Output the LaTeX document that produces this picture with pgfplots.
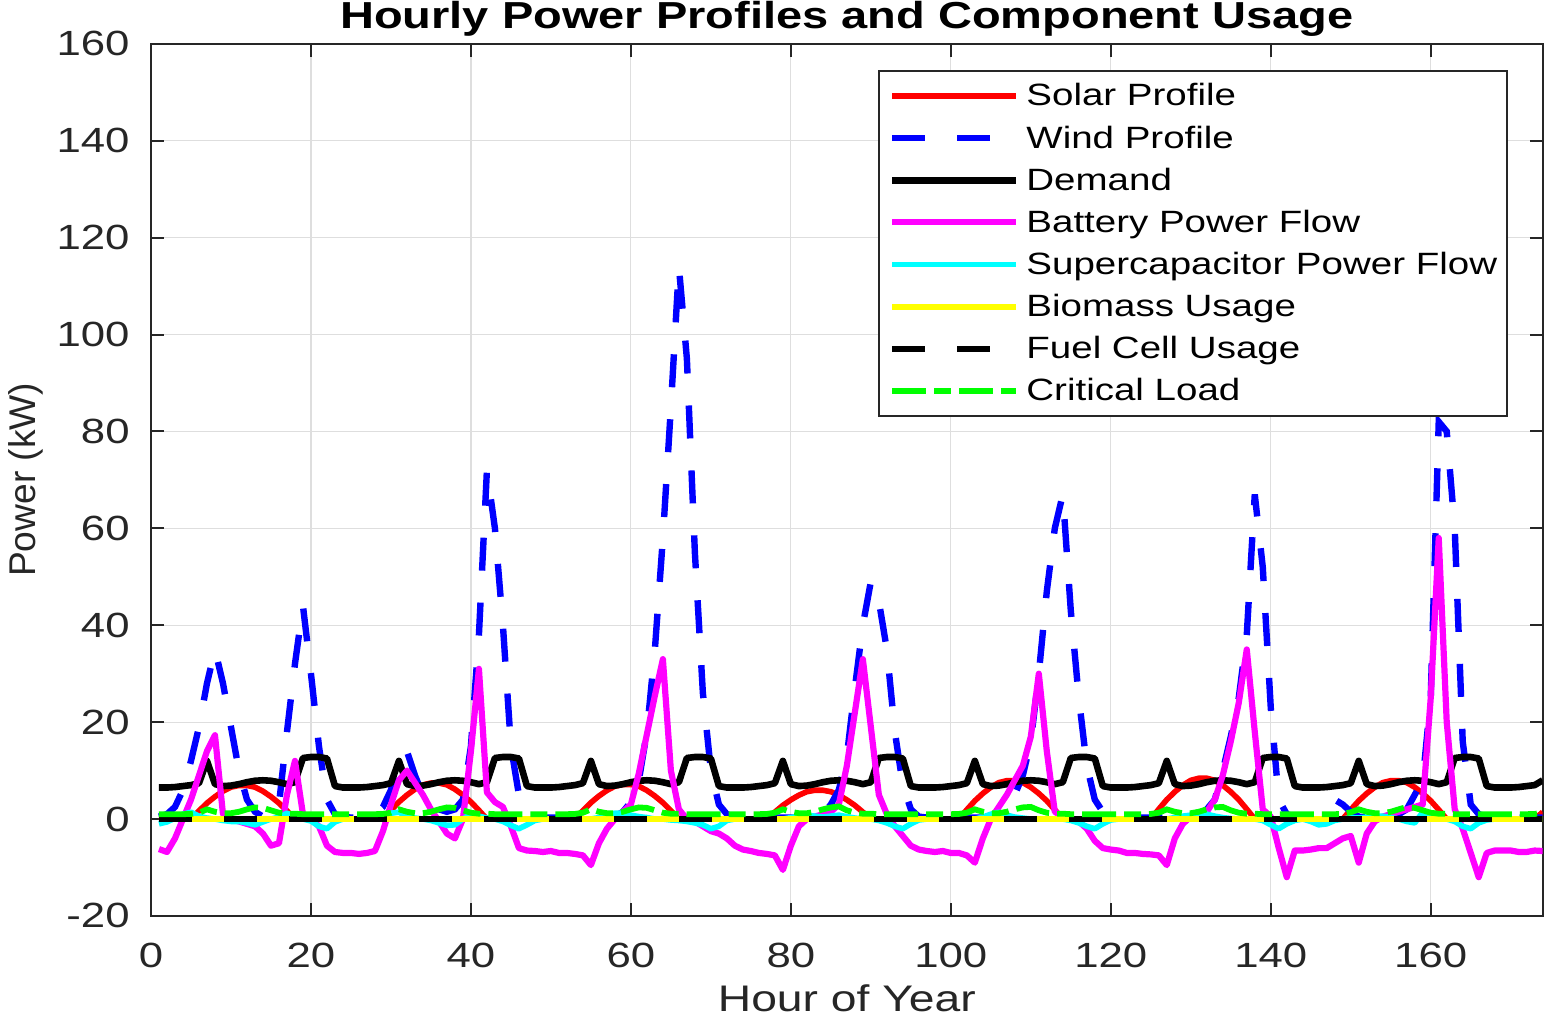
\documentclass[border=0pt]{standalone}
\usepackage{fontspec}
\setmainfont{Liberation Sans}[FakeStretch=1.25]
\newfontfamily\ylabfont{Liberation Sans}
\usepackage{pgfplots}
\usepackage{pgfplotstable}
\pgfplotsset{compat=1.18}
\definecolor{axcol}{RGB}{38,38,38}
\definecolor{gridcol}{RGB}{222,222,222}
\definecolor{cred}{RGB}{255,0,0}
\definecolor{cblue}{RGB}{0,0,255}
\definecolor{cmag}{RGB}{255,0,255}
\definecolor{ccyan}{RGB}{0,255,255}
\definecolor{cyel}{RGB}{255,255,0}
\definecolor{cgreen}{RGB}{0,255,0}

\pgfplotstableread{
h S W D B C K
1 0 0.5 6.5 -6.2 -1.0 1.0
2 0 1.0 6.5 -6.8 -0.6 1.0
3 0 2.5 6.6 -4 0.2 1.0
4 0 6 6.8 0 1.0 1.0
5 0 12 7.0 4 1.4 1.05
6 1.68 19 7.4 9 0.6 1.3
7 3.29 28 12.0 14 0.2 2.0
8 4.62 35 7.2 17.3 0 1.5
9 5.74 28 6.8 1 -0.3 1.2
10 6.58 19 6.9 0 -0.5 1.2
11 6.93 10 7.2 -0.5 -0.5 1.5
12 6.93 4 7.6 -1 -0.8 2.0
13 6.58 1.5 7.9 -1.5 -1.2 2.4
14 5.74 0.5 8.0 -3 -0.6 2.3
15 4.62 0.5 7.9 -5.5 0 1.8
16 3.29 3 7.6 -5 0.4 1.3
17 1.68 18 7.2 5 1.2 1.1
18 0 32 7.6 12 0.6 1.1
19 0 44 12.6 1 0 1.0
20 0 30 12.8 0 -0.4 1.0
21 0 15 12.8 -1.5 -1.5 1.0
22 0 4 12.5 -5.5 -2.0 1.0
23 0 1 6.8 -6.8 -0.6 1.0
24 0 0.5 6.5 -7 0 1.0
25 0 0.3 6.5 -7 0 1.0
26 0 0.3 6.5 -7.2 0 1.0
27 0 0.5 6.6 -7 0 1.0
28 0 1 6.8 -6.6 0 1.0
29 0 2.5 7.0 -2.5 0.5 1.05
30 1.8 6 7.4 3 1.2 1.3
31 3.53 12 12.0 8 1.4 2.0
32 4.95 14 7.2 10 0.6 1.5
33 6.15 9 6.8 7.5 0.2 1.2
34 7.05 5 6.9 5 0 1.2
35 7.43 3 7.2 2 -0.3 1.5
36 7.43 2 7.6 -0.5 -0.8 2.0
37 7.05 1.5 7.9 -3 -1.3 2.4
38 6.15 2 8.0 -4 -1.2 2.3
39 4.95 4 7.9 0 0 1.8
40 3.53 15 7.6 14 1.0 1.3
41 1.8 38 7.2 31 0.6 1.1
42 0 72 7.6 5.5 0.2 1.1
43 0 60 12.6 3.5 0 1.0
44 0 40 12.8 2.5 -0.5 1.0
45 0 15 12.8 -1.5 -1.3 1.0
46 0 5 12.5 -6 -2.0 1.0
47 0 1.5 6.8 -6.5 -1.2 1.0
48 0 0.5 6.5 -6.6 -0.3 1.0
49 0 0.3 6.5 -6.8 0 1.0
50 0 0.3 6.5 -6.6 0 1.0
51 0 0.3 6.6 -7 0 1.0
52 0 0.3 6.8 -7 0 1.0
53 0 0.3 7.0 -7.2 0 1.05
54 1.73 0.3 7.4 -7.5 0 1.3
55 3.38 0.3 12.0 -9.5 0 2.0
56 4.75 0.3 7.2 -5 0.3 1.5
57 5.9 0.3 6.8 -2 0.8 1.2
58 6.77 0.5 6.9 0 1.2 1.2
59 7.13 1.5 7.2 1.5 1.2 1.5
60 7.13 3.5 7.6 3 0.8 2.0
61 6.77 8 7.9 9.5 0.5 2.4
62 5.9 18 8.0 17.5 0.3 2.3
63 4.75 35 7.9 25.5 0 1.8
64 3.38 58 7.6 33 0 1.3
65 1.73 85 7.2 10 -0.2 1.1
66 0 114 7.6 2 -0.3 1.1
67 0 95 12.6 0 -0.5 1.0
68 0 55 12.8 -0.5 -0.8 1.0
69 0 26 12.8 -1.5 -1.2 1.0
70 0 10 12.5 -2.5 -2.0 1.0
71 0 3 6.8 -3 -1.5 1.0
72 0 1 6.5 -4 -0.3 1.0
73 0 0.3 6.5 -5.5 0 1.0
74 0 0.3 6.5 -6.3 0 1.0
75 0 0.3 6.6 -6.6 0 1.0
76 0 0.3 6.8 -7 0 1.0
77 0 0.3 7.0 -7.2 0 1.05
78 1.44 0.3 7.4 -7.5 0 1.3
79 2.82 0.3 12.0 -10.5 0 2.0
80 3.96 0.3 7.2 -5.5 0.3 1.5
81 4.92 0.3 6.8 -1.5 0.6 1.2
82 5.64 0.3 6.9 0 0.8 1.2
83 5.94 0.3 7.2 0.5 0.6 1.5
84 5.94 1 7.6 1 0.4 2.0
85 5.64 3 7.9 1.5 0.6 2.4
86 4.92 6 8.0 3 0.8 2.6
87 3.96 13 7.9 11 0.5 1.8
88 2.82 27 7.6 22 0.2 1.3
89 1.44 40 7.2 33 0 1.1
90 0 49 7.6 19 0 1.1
91 0 45 12.6 5 -0.3 1.0
92 0 35 12.8 1 -0.8 1.0
93 0 18 12.8 -1.5 -1.5 1.0
94 0 7 12.5 -3.5 -2.0 1.0
95 0 2 6.8 -5.5 -1.0 1.0
96 0 0.5 6.5 -6.3 -0.2 1.0
97 0 0.3 6.5 -6.6 0 1.0
98 0 0.3 6.5 -6.8 0 1.0
99 0 0.3 6.6 -6.6 0 1.0
100 0 0.3 6.8 -7 0 1.0
101 0 0.3 7.0 -7 0 1.05
102 1.92 0.3 7.4 -7.5 0 1.3
103 3.76 0.3 12.0 -9 0 2.0
104 5.28 0.3 7.2 -4 0.4 1.5
105 6.56 0.3 6.8 0 1.0 1.2
106 7.52 1 6.9 2.5 1.4 1.2
107 7.92 2.5 7.2 5 0.8 1.5
108 7.92 5 7.6 8 0.4 2.0
109 7.52 9 7.9 11 0.2 2.4
110 6.56 16 8.0 17 0 2.5
111 5.28 30 7.9 30 0 1.8
112 3.76 47 7.6 14 0 1.3
113 1.92 60 7.2 1.5 0 1.1
114 0 67 7.6 0.5 0 1.1
115 0 43 12.6 0 -0.3 1.0
116 0 25 12.8 -0.5 -0.8 1.0
117 0 11 12.8 -2 -1.5 1.0
118 0 4 12.5 -4.5 -2.0 1.0
119 0 1.5 6.8 -6 -1.0 1.0
120 0 0.5 6.5 -6.3 -0.2 1.0
121 0 0.3 6.5 -6.5 0 1.0
122 0 0.3 6.5 -7 0 1.0
123 0 0.3 6.6 -7 0 1.0
124 0 0.3 6.8 -7.2 0 1.0
125 0 0.3 7.0 -7.3 0 1.05
126 2.04 0.3 7.4 -7.5 0 1.3
127 4.0 0.3 12.0 -9.5 0 2.0
128 5.61 0.3 7.2 -4 0.3 1.5
129 6.97 0.3 6.8 -1 0.6 1.2
130 7.99 0.3 6.9 0.5 0.8 1.2
131 8.42 1 7.2 1 0.9 1.5
132 8.42 2 7.6 1.5 1.0 2.0
133 7.99 4 7.9 4 0.6 2.4
134 6.97 10 8.0 9 0.3 2.5
135 5.61 17 7.9 16 0.1 1.8
136 4.0 25 7.6 24 0 1.3
137 2.04 38 7.2 35 0 1.1
138 0 67 7.6 18 0 1.1
139 0 52 12.6 2 -0.3 1.0
140 0 23 12.8 0.5 -1.2 1.0
141 0 4 12.8 -6 -2.0 1.0
142 0 1 12.5 -12 -1.0 1.0
143 0 0.5 6.8 -6.5 -0.3 1.0
144 0 0.3 6.5 -6.5 0 1.0
145 0 0.5 6.5 -6.3 -0.5 1.0
146 0 1.5 6.5 -6 -1.2 1.0
147 0 3 6.6 -6 -1.0 1.0
148 0 4 6.8 -5 -0.3 1.0
149 0 3 7.0 -4 0 1.05
150 1.92 1.5 7.4 -3.5 0.3 1.4
151 3.76 0.5 12.0 -9 0.2 2.0
152 5.28 0.3 7.2 -3 0.4 1.5
153 6.56 0.3 6.8 -0.5 0.6 1.2
154 7.52 0.3 6.9 0.5 0.6 1.2
155 7.92 0.3 7.2 1 0.3 1.5
156 7.92 1 7.6 1.5 0 2.0
157 7.52 2 7.9 2 -0.5 2.5
158 6.56 5 8.0 2.5 -0.8 2.3
159 5.28 8 7.9 3 1.4 1.8
160 3.76 25 7.6 25 0.6 1.3
161 1.92 82 7.2 58 0.2 1.1
162 0 80 7.6 20 0 1.1
163 0 60 12.6 2 -0.5 1.0
164 0 16 12.8 -2 -1.5 1.0
165 0 3 12.8 -7 -2.0 1.0
166 0 1 12.5 -12 -0.8 1.0
167 0 0.5 6.8 -7 -0.2 1.0
168 0 0.3 6.5 -6.5 0 1.0
169 0 0.3 6.5 -6.5 0 1.0
170 0 0.3 6.5 -6.5 0 1.0
171 0 0.3 6.6 -6.8 0 1.0
172 0 0.3 6.8 -6.8 0 1.0
173 0 0.3 7.0 -6.5 0 1.05
174 1.44 0.3 8.0 -6.6 0 1.3
}\datatable

\begin{document}
\begin{tikzpicture}
\begin{axis}[
 name=ax, scale only axis, width=695.9bp, height=436.1bp,
 xmin=0, xmax=174, ymin=-20, ymax=160,
 xtick={0,20,...,160}, ytick={-20,0,...,160},
 tick pos=both, tick align=inside, major tick length=6.5bp,
 axis line style={axcol, line width=1bp},
 tick style={axcol, line width=1bp},
 grid=major, grid style={gridcol, line width=0.6bp},
 /pgf/number format/assume math mode=true,
 ticklabel style={font=\fontsize{17.5bp}{20bp}\selectfont, text=axcol},
 xticklabel style={inner sep=0pt, anchor=north, yshift=-13.5bp},
 yticklabel style={inner sep=0pt, anchor=east, xshift=-10.5bp},
 every axis title shift=0pt,
 title={Hourly Power Profiles and Component Usage},
 title style={font=\fontsize{18.8bp}{22bp}\selectfont\bfseries, at={(axis description cs:0.5,1.0181)}, anchor=base, inner sep=0pt},
 xlabel={Hour of Year},
 xlabel style={font=\fontsize{18.5bp}{22bp}\selectfont, text=axcol, at={(axis description cs:0.5,-0.1101)}, anchor=base, inner sep=0pt},
 ylabel={Power (kW)},
 ylabel style={font=\ylabfont\fontsize{18.6bp}{22bp}\selectfont, text=axcol, at={(axis description cs:-0.0833,0.5)}, anchor=base, inner sep=0pt},
 legend style={at={(axis description cs:1,1)}, anchor=north east, xshift=-17.4bp, yshift=-13.2bp, draw=axcol, line width=0.75bp, fill=white, font=\fontsize{15.4bp}{18bp}\selectfont, inner xsep=5bp, inner ysep=5.5bp, row sep=7.07bp, column sep=3.5bp, nodes={inner sep=0pt, text height=12bp, text depth=2bp}},
 legend cell align=left,
 legend image code/.code={\draw[#1] (-2.5bp,0bp) -- (59.5bp,0bp);},
]
\addplot[cred, line width=2.8bp, line join=round] table[x=h,y=S]{\datatable};
\addlegendentry{Solar Profile}
\addplot[cblue, line width=3.2bp, dash pattern=on 16.5bp off 16bp] table[x=h,y=W]{\datatable};
\addlegendentry{Wind Profile}
\addplot[black, line width=3.3bp, line join=round] table[x=h,y=D]{\datatable};
\addlegendentry{Demand}
\addplot[cmag, line width=3.1bp, line join=round] table[x=h,y=B]{\datatable};
\addlegendentry{Battery Power Flow}
\addplot[ccyan, line width=2.8bp, line join=round] table[x=h,y=C]{\datatable};
\addlegendentry{Supercapacitor Power Flow}
\addplot[cyel, line width=2.9bp] coordinates {(1,0) (174,0)};
\addlegendentry{Biomass Usage}
\addplot[black, line width=2.9bp, dash pattern=on 16.5bp off 16bp] coordinates {(1,0) (174,0)};
\addlegendentry{Fuel Cell Usage}
\addplot[cgreen, line width=2.9bp, dash pattern=on 17bp off 4bp on 8.5bp off 4bp] table[x=h,y=K]{\datatable};
\addlegendentry{Critical Load}
\end{axis}
\pgfresetboundingbox
\path[use as bounding box] ([xshift=-75.5bp,yshift=-51.5bp]ax.south west) rectangle ([xshift=2.65bp,yshift=21.9bp]ax.north east);
\end{tikzpicture}
\end{document}
